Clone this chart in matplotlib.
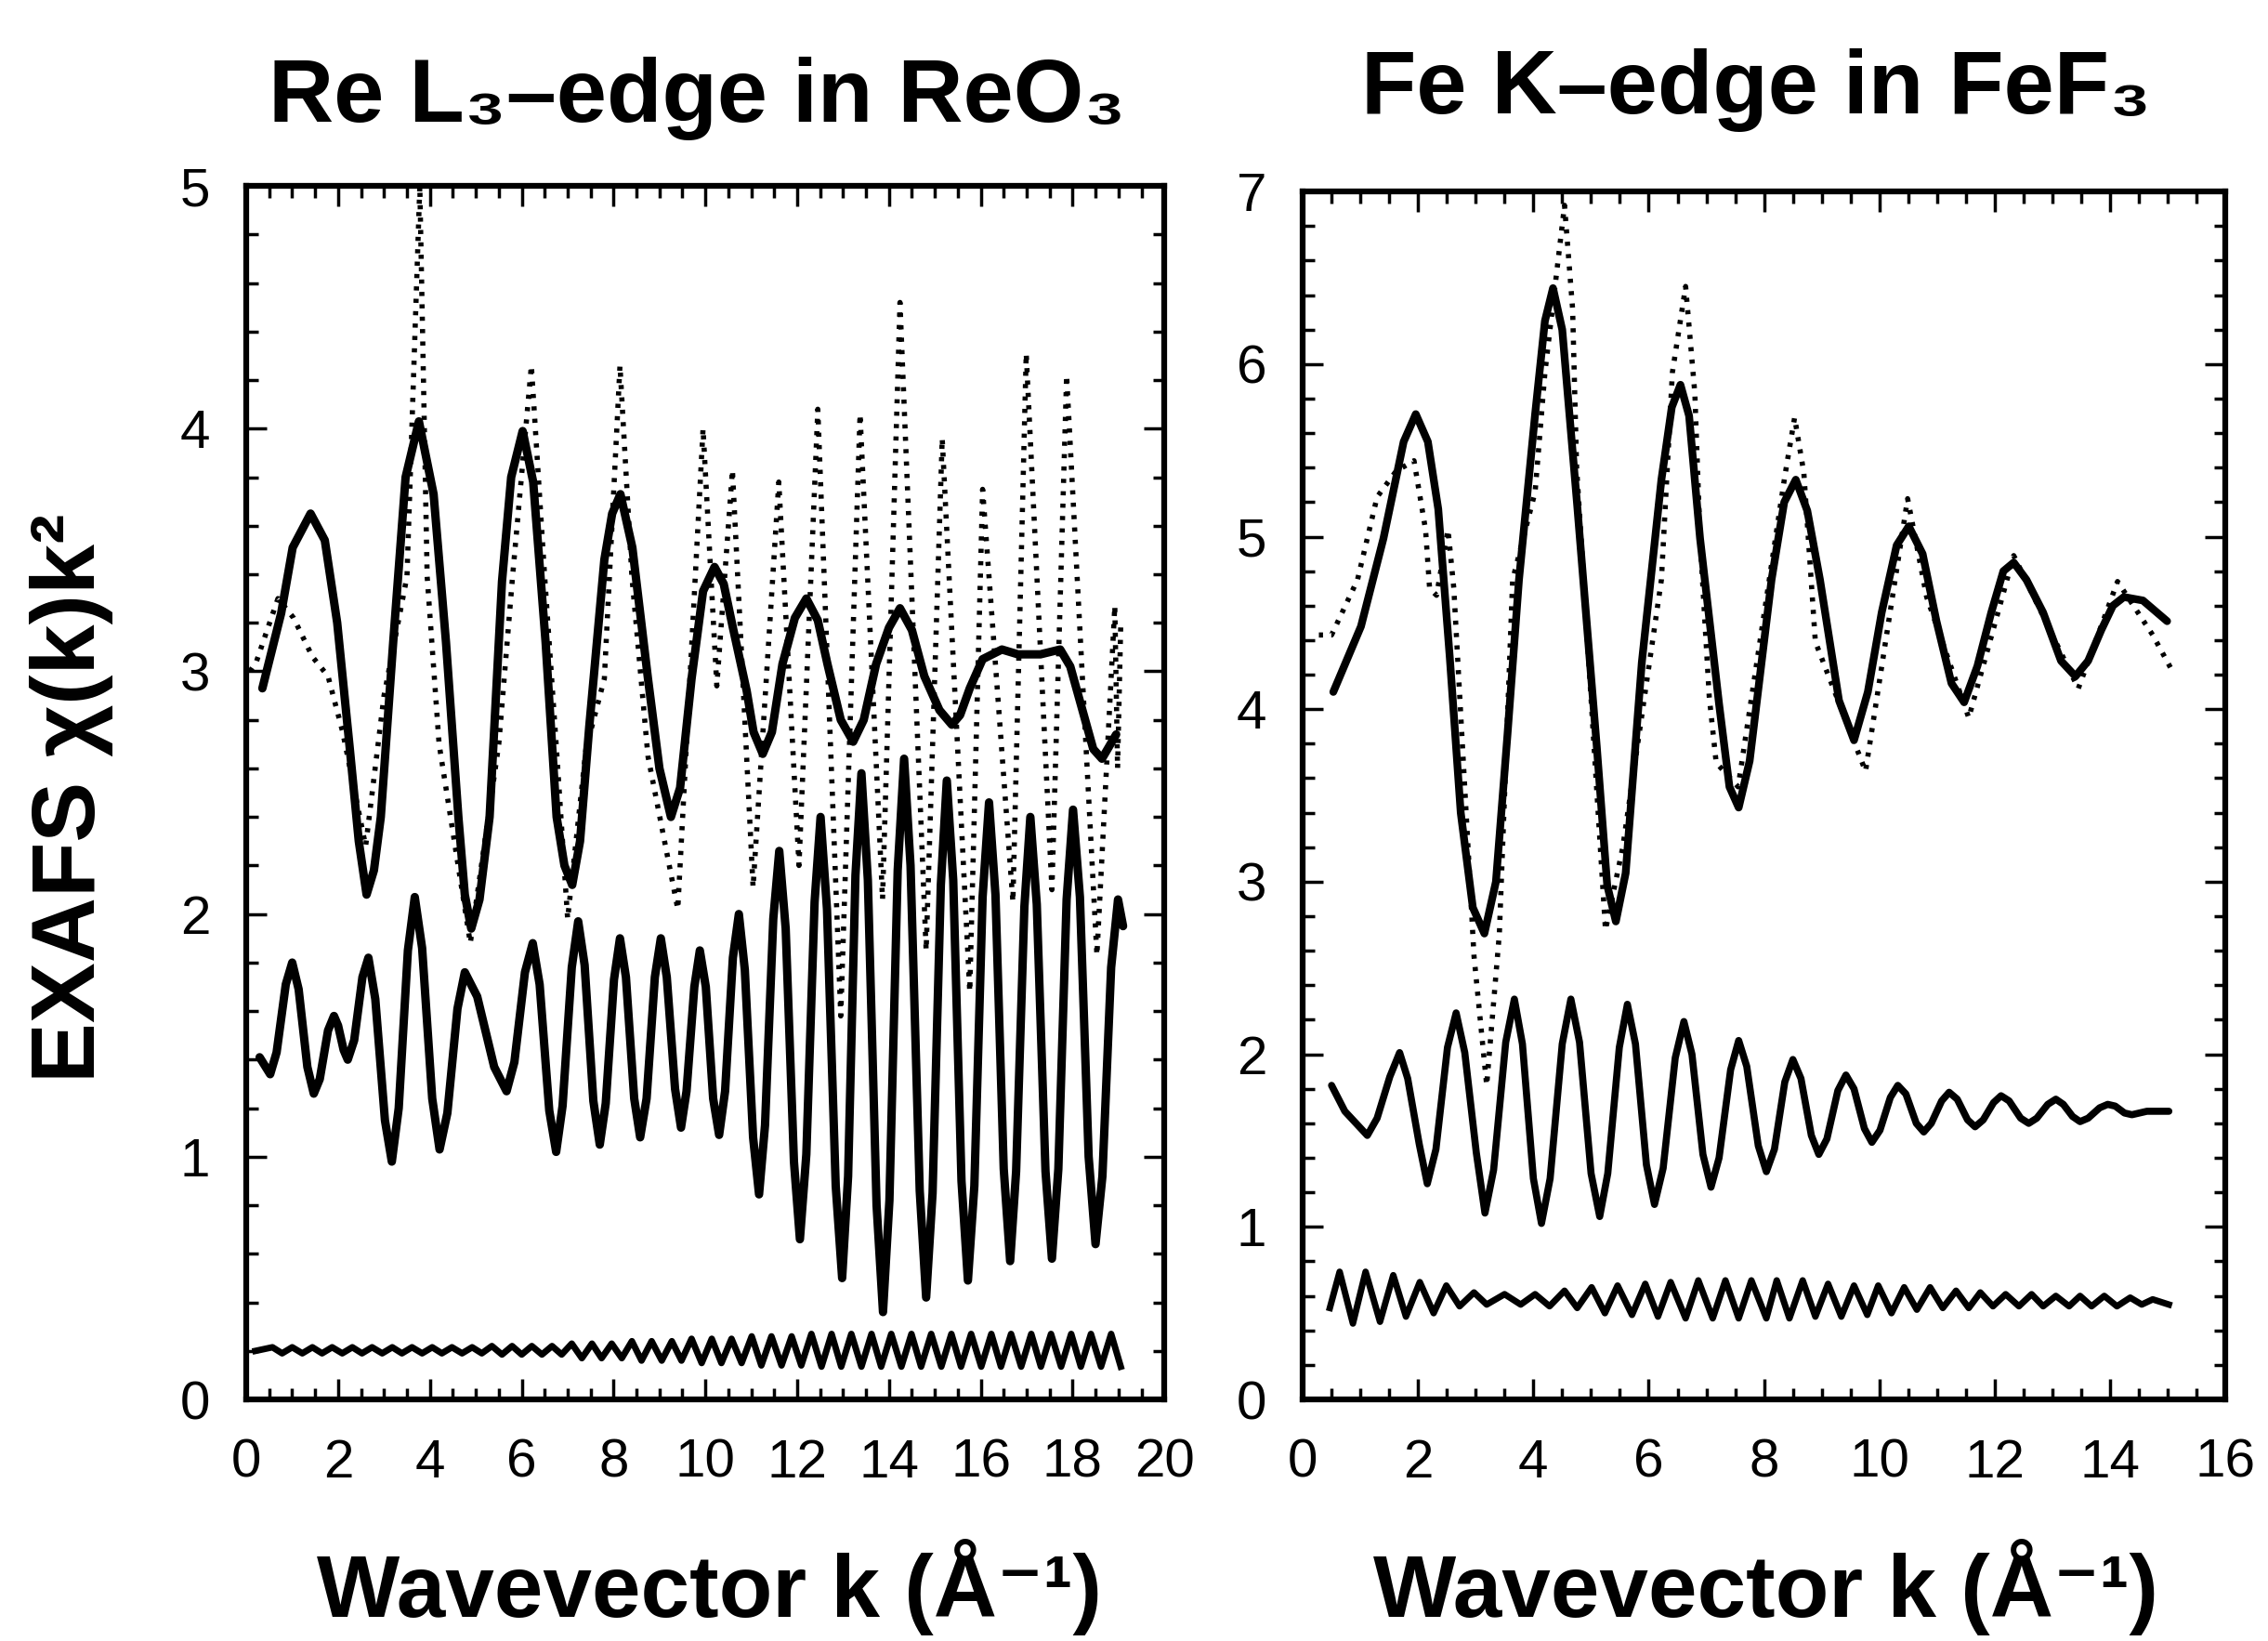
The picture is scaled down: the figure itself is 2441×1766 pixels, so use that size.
import matplotlib.pyplot as plt
from matplotlib.ticker import MultipleLocator

plt.rcParams['font.family'] = ['Liberation Sans', 'DejaVu Sans']

# ---- Re L3-edge in ReO3 (left panel), points as (k, chi*k^2) ----
re_fit = [(0.35, 2.93), (0.76, 3.24), (1.01, 3.51), (1.40, 3.65), (1.71, 3.54),
          (1.98, 3.20), (2.25, 2.69), (2.45, 2.30), (2.62, 2.08), (2.78, 2.18),
          (2.93, 2.40), (3.20, 3.12), (3.47, 3.80), (3.76, 4.03), (4.08, 3.73),
          (4.35, 3.12), (4.62, 2.40), (4.76, 2.08), (4.90, 1.94), (5.08, 2.06),
          (5.30, 2.40), (5.57, 3.37), (5.77, 3.80), (6.02, 3.99), (6.25, 3.78),
          (6.52, 3.12), (6.76, 2.40), (6.93, 2.20), (7.10, 2.12), (7.27, 2.30),
          (7.47, 2.77), (7.80, 3.46), (7.97, 3.65), (8.15, 3.73), (8.41, 3.51),
          (8.75, 2.97), (9.00, 2.60), (9.25, 2.40), (9.45, 2.52), (9.70, 2.97),
          (9.95, 3.33), (10.20, 3.43), (10.40, 3.36), (10.60, 3.18), (10.90, 2.92),
          (11.05, 2.75), (11.25, 2.66), (11.45, 2.75), (11.68, 3.03), (11.95, 3.22),
          (12.20, 3.30), (12.45, 3.21), (12.66, 3.03), (12.95, 2.80), (13.22, 2.71),
          (13.45, 2.80), (13.72, 3.03), (14.00, 3.18), (14.24, 3.26), (14.50, 3.17),
          (14.77, 2.98), (15.10, 2.84), (15.37, 2.78), (15.55, 2.82), (15.76, 2.93),
          (16.04, 3.05), (16.46, 3.09), (16.81, 3.07), (17.30, 3.07), (17.73, 3.09),
          (17.95, 3.02), (18.20, 2.85), (18.45, 2.68), (18.64, 2.64), (18.95, 2.74)]

re_exp = [(0.08, 3.00), (0.22, 3.04), (0.49, 3.19), (0.69, 3.30), (1.03, 3.22),
          (1.44, 3.06), (1.78, 2.98), (2.10, 2.75), (2.60, 2.28), (3.00, 2.90),
          (3.50, 3.39), (3.78, 5.00), (3.94, 3.39), (4.20, 2.70), (4.88, 1.88),
          (5.50, 2.70), (5.80, 3.39), (6.21, 4.26), (6.50, 3.39), (6.75, 2.70),
          (7.00, 1.98), (7.40, 2.68), (7.80, 2.97), (8.14, 4.26), (8.40, 3.39),
          (8.75, 2.65), (9.40, 2.02), (9.95, 4.00), (10.25, 2.94), (10.59, 3.83),
          (11.04, 2.11), (11.60, 3.78), (12.04, 2.20), (12.45, 4.08), (12.95, 1.58),
          (13.37, 4.06), (13.86, 2.06), (14.24, 4.52), (14.81, 1.85), (15.16, 3.96),
          (15.76, 1.68), (16.04, 3.75), (16.70, 2.05), (16.99, 4.31), (17.55, 2.10),
          (17.87, 4.22), (18.53, 1.83), (18.92, 3.27), (18.98, 2.60), (19.05, 3.20)]

re_mid = [(0.29, 1.41), (0.52, 1.34), (0.66, 1.43), (0.86, 1.71), (1.00, 1.80),
          (1.14, 1.69), (1.33, 1.37), (1.47, 1.26), (1.60, 1.32), (1.78, 1.52),
          (1.91, 1.58), (2.00, 1.54), (2.12, 1.44), (2.21, 1.40), (2.35, 1.48),
          (2.53, 1.74), (2.66, 1.82), (2.81, 1.65), (3.02, 1.15), (3.17, 0.98),
          (3.32, 1.20), (3.52, 1.85), (3.67, 2.07), (3.83, 1.86), (4.05, 1.24),
          (4.21, 1.03), (4.38, 1.18), (4.60, 1.61), (4.76, 1.76), (5.03, 1.66),
          (5.40, 1.37), (5.67, 1.27), (5.84, 1.39), (6.07, 1.76), (6.24, 1.88),
          (6.39, 1.71), (6.60, 1.19), (6.75, 1.02), (6.89, 1.21), (7.09, 1.78),
          (7.23, 1.97), (7.37, 1.79), (7.56, 1.23), (7.70, 1.05), (7.83, 1.22),
          (8.01, 1.73), (8.14, 1.90), (8.27, 1.74), (8.45, 1.24), (8.58, 1.08),
          (8.72, 1.24), (8.90, 1.74), (9.03, 1.90), (9.16, 1.74), (9.34, 1.28),
          (9.47, 1.12), (9.59, 1.27), (9.76, 1.70), (9.88, 1.85), (10.01, 1.70),
          (10.17, 1.24), (10.30, 1.09), (10.43, 1.27), (10.60, 1.82), (10.73, 2.00),
          (10.86, 1.77), (11.04, 1.08), (11.17, 0.845), (11.30, 1.13), (11.48, 1.98),
          (11.61, 2.26), (11.75, 1.94), (11.93, 0.98), (12.06, 0.66), (12.20, 1.01),
          (12.38, 2.05), (12.51, 2.40), (12.65, 2.02), (12.84, 0.88), (12.98, 0.50),
          (13.11, 0.92), (13.27, 2.16), (13.40, 2.58), (13.54, 2.14), (13.73, 0.80),
          (13.87, 0.36), (14.01, 0.82), (14.19, 2.18), (14.33, 2.64), (14.47, 2.20),
          (14.67, 0.86), (14.81, 0.42), (14.95, 0.85), (15.13, 2.12), (15.26, 2.55),
          (15.40, 2.14), (15.58, 0.90), (15.72, 0.49), (15.86, 0.88), (16.04, 2.07),
          (16.18, 2.46), (16.32, 2.08), (16.50, 0.95), (16.64, 0.57), (16.77, 0.94),
          (16.95, 2.03), (17.08, 2.40), (17.22, 2.04), (17.41, 0.94), (17.55, 0.58),
          (17.69, 0.95), (17.87, 2.06), (18.01, 2.43), (18.16, 2.07), (18.35, 1.00),
          (18.50, 0.64), (18.65, 0.92), (18.84, 1.78), (18.99, 2.06), (19.10, 1.95)]

re_low_k = [0.20, 0.57, 0.78, 1.00, 1.22, 1.44, 1.65, 1.87, 2.09, 2.31, 2.52,
            2.74, 2.96, 3.18, 3.39, 3.61, 3.83, 4.05, 4.26, 4.48, 4.70,
            4.92, 5.13, 5.35, 5.57, 5.79, 6.00, 6.22, 6.44, 6.66, 6.87,
            7.09, 7.31, 7.53, 7.74, 7.96, 8.18, 8.40, 8.61, 8.83, 9.05,
            9.27, 9.48, 9.70, 9.92, 10.14, 10.35, 10.57, 10.79, 11.01, 11.22,
            11.44, 11.66, 11.88, 12.09, 12.31, 12.53, 12.75, 12.96, 13.18, 13.40,
            13.62, 13.83, 14.05, 14.27, 14.49, 14.70, 14.92, 15.14, 15.36, 15.57,
            15.79, 16.01, 16.23, 16.44, 16.66, 16.88, 17.10, 17.31, 17.53, 17.75,
            17.97, 18.18, 18.40, 18.62, 18.84, 19.05]
re_low_y = [0.20, 0.215, 0.19, 0.215, 0.19, 0.215, 0.19, 0.215, 0.19, 0.215, 0.19,
            0.215, 0.19, 0.215, 0.19, 0.215, 0.19, 0.215, 0.19, 0.215, 0.19,
            0.215, 0.19, 0.22, 0.185, 0.22, 0.185, 0.22, 0.185, 0.22, 0.185,
            0.23, 0.17, 0.23, 0.17, 0.23, 0.17, 0.24, 0.16, 0.24, 0.16,
            0.24, 0.16, 0.25, 0.15, 0.25, 0.15, 0.25, 0.15, 0.26, 0.14,
            0.26, 0.14, 0.26, 0.14, 0.27, 0.135, 0.27, 0.135, 0.27, 0.135,
            0.27, 0.135, 0.27, 0.135, 0.27, 0.135, 0.27, 0.135, 0.27, 0.135,
            0.27, 0.135, 0.27, 0.135, 0.27, 0.135, 0.27, 0.135, 0.27, 0.135,
            0.27, 0.135, 0.27, 0.135, 0.27, 0.135]

# ---- Fe K-edge in FeF3 (right panel) ----
fe_fit = [(0.53, 4.10), (1.01, 4.48), (1.40, 4.99), (1.75, 5.55), (1.96, 5.71),
          (2.17, 5.55), (2.35, 5.16), (2.55, 4.30), (2.74, 3.40), (2.95, 2.85),
          (3.15, 2.70), (3.35, 3.00), (3.55, 3.85), (3.75, 4.75), (4.03, 5.71),
          (4.20, 6.25), (4.34, 6.44), (4.50, 6.20), (4.76, 5.18), (5.10, 3.78),
          (5.28, 2.98), (5.43, 2.77), (5.60, 3.05), (5.88, 4.27), (6.22, 5.33),
          (6.40, 5.75), (6.55, 5.88), (6.70, 5.70), (6.89, 4.99), (7.22, 4.03),
          (7.40, 3.55), (7.56, 3.43), (7.75, 3.70), (8.13, 4.75), (8.35, 5.20),
          (8.55, 5.33), (8.75, 5.15), (8.97, 4.75), (9.30, 4.05), (9.56, 3.82),
          (9.80, 4.10), (10.04, 4.56), (10.30, 4.95), (10.51, 5.06), (10.75, 4.90),
          (10.99, 4.51), (11.25, 4.15), (11.47, 4.04), (11.70, 4.25), (11.94, 4.56),
          (12.15, 4.80), (12.33, 4.85), (12.55, 4.75), (12.84, 4.56), (13.15, 4.28),
          (13.40, 4.19), (13.62, 4.28), (13.85, 4.46), (14.05, 4.60), (14.24, 4.65),
          (14.57, 4.63), (14.99, 4.51)]

fe_exp = [(0.28, 4.43), (0.50, 4.43), (0.95, 4.75), (1.29, 5.23), (1.62, 5.38),
          (1.93, 5.44), (2.13, 5.04), (2.20, 4.70), (2.32, 4.66), (2.52, 5.04),
          (2.62, 4.70), (2.97, 2.57), (3.19, 1.82), (3.41, 2.70), (3.64, 4.75),
          (4.03, 5.26), (4.20, 5.95), (4.54, 6.92), (4.68, 6.32), (4.75, 5.40),
          (5.25, 2.72), (5.55, 3.20), (6.22, 4.75), (6.41, 5.95), (6.64, 6.45),
          (6.80, 5.83), (6.89, 4.99), (7.05, 4.07), (7.17, 3.69), (7.55, 3.55),
          (8.36, 5.35), (8.53, 5.69), (8.69, 5.37), (8.89, 4.39), (9.76, 3.64),
          (10.49, 5.22), (10.82, 4.65), (11.55, 3.95), (12.33, 4.89), (13.45, 4.12),
          (14.13, 4.74), (14.74, 4.43), (15.05, 4.24)]

fe_mid = [(0.50, 1.82), (0.73, 1.67), (1.12, 1.53), (1.29, 1.63), (1.51, 1.87),
          (1.68, 2.01), (1.82, 1.86), (2.02, 1.48), (2.16, 1.25), (2.31, 1.45),
          (2.51, 2.04), (2.66, 2.24), (2.81, 2.01), (3.01, 1.43), (3.16, 1.08),
          (3.31, 1.33), (3.52, 2.07), (3.67, 2.32), (3.81, 2.06), (4.00, 1.28),
          (4.14, 1.02), (4.29, 1.28), (4.50, 2.06), (4.65, 2.32), (4.80, 2.07),
          (5.00, 1.31), (5.15, 1.06), (5.29, 1.31), (5.49, 2.04), (5.63, 2.29),
          (5.77, 2.06), (5.96, 1.36), (6.10, 1.13), (6.25, 1.34), (6.46, 1.98),
          (6.61, 2.19), (6.75, 2.00), (6.94, 1.42), (7.08, 1.23), (7.22, 1.40),
          (7.42, 1.91), (7.56, 2.08), (7.70, 1.93), (7.90, 1.47), (8.04, 1.32),
          (8.18, 1.45), (8.36, 1.84), (8.50, 1.97), (8.64, 1.86), (8.82, 1.53),
          (8.95, 1.42), (9.09, 1.51), (9.28, 1.79), (9.42, 1.88), (9.56, 1.80),
          (9.74, 1.57), (9.87, 1.49), (10.01, 1.56), (10.19, 1.75), (10.32, 1.82),
          (10.46, 1.77), (10.64, 1.60), (10.77, 1.55), (10.90, 1.60), (11.08, 1.73),
          (11.21, 1.78), (11.35, 1.74), (11.53, 1.62), (11.66, 1.58), (11.80, 1.62),
          (11.98, 1.72), (12.11, 1.76), (12.25, 1.73), (12.45, 1.63), (12.59, 1.60),
          (12.73, 1.63), (12.92, 1.71), (13.06, 1.74), (13.19, 1.71), (13.35, 1.64),
          (13.48, 1.61), (13.62, 1.63), (13.82, 1.69), (13.96, 1.71), (14.09, 1.70),
          (14.25, 1.66), (14.38, 1.65), (14.64, 1.67), (15.02, 1.67)]

fe_low_k = [0.47, 0.64, 0.87, 1.09, 1.34, 1.57, 1.79, 2.03, 2.27, 2.49,
            2.72, 2.97, 3.19, 3.50, 3.78, 4.03, 4.28, 4.54, 4.76, 5.01,
            5.24, 5.46, 5.71, 5.94, 6.16, 6.38, 6.64, 6.86, 7.11, 7.33,
            7.56, 7.78, 8.04, 8.22, 8.44, 8.67, 8.89, 9.11, 9.34, 9.56,
            9.79, 9.98, 10.21, 10.43, 10.65, 10.88, 11.10, 11.33, 11.55, 11.75,
            11.97, 12.19, 12.42, 12.64, 12.84, 13.06, 13.29, 13.48, 13.68, 13.90,
            14.12, 14.35, 14.55, 14.74, 15.02]
fe_low_y = [0.53, 0.74, 0.44, 0.74, 0.45, 0.72, 0.48, 0.68, 0.50, 0.66,
            0.54, 0.62, 0.55, 0.61, 0.55, 0.61, 0.54, 0.63, 0.53, 0.65,
            0.50, 0.66, 0.49, 0.67, 0.48, 0.68, 0.47, 0.69, 0.47, 0.69,
            0.47, 0.69, 0.47, 0.69, 0.47, 0.69, 0.48, 0.67, 0.48, 0.66,
            0.49, 0.66, 0.50, 0.65, 0.52, 0.65, 0.53, 0.63, 0.53, 0.62,
            0.54, 0.61, 0.54, 0.61, 0.54, 0.60, 0.54, 0.60, 0.54, 0.60,
            0.54, 0.59, 0.55, 0.58, 0.55]


def styl(ax, xmax, ymax):
    ax.set_xlim(0, xmax)
    ax.set_ylim(0, ymax)
    ax.xaxis.set_major_locator(MultipleLocator(2))
    ax.xaxis.set_minor_locator(MultipleLocator(0.5))
    ax.yaxis.set_major_locator(MultipleLocator(1))
    ax.yaxis.set_minor_locator(MultipleLocator(0.2))
    ax.tick_params(which='both', direction='in', top=True, right=True,
                   width=2.5, labelsize=42)
    ax.tick_params(which='major', length=16)
    ax.tick_params(which='minor', length=9)
    ax.tick_params(axis='x', pad=30)
    ax.tick_params(axis='y', pad=28)
    for s in ax.spines.values():
        s.set_linewidth(4.5)


def curve(ax, pts, **kw):
    k, y = zip(*pts)
    ax.plot(k, y, color='black', solid_joinstyle='round',
            solid_capstyle='round', **kw)


fig = plt.figure(figsize=(24.41, 17.66), dpi=100)
ax1 = fig.add_axes([0.1086, 0.1472, 0.4048, 0.7395])
ax2 = fig.add_axes([0.5744, 0.1472, 0.4068, 0.7361])

dots = (0, (0.8, 1.6))
curve(ax1, re_exp, lw=4, linestyle=dots)
curve(ax1, re_fit, lw=6.5)
curve(ax1, re_mid, lw=6.5)
ax1.plot(re_low_k, re_low_y, color='black', lw=5, solid_joinstyle='round')
styl(ax1, 20, 5)

curve(ax2, fe_exp, lw=4, linestyle=dots)
curve(ax2, fe_fit, lw=6)
curve(ax2, fe_mid, lw=5.5)
ax2.plot(fe_low_k, fe_low_y, color='black', lw=5, solid_joinstyle='round')
styl(ax2, 16, 7)

fig.text(0.3073, 0.926, 'Re L₃–edge in ReO₃', ha='center', va='baseline',
         fontsize=70, fontweight='bold')
fig.text(0.7743, 0.931, 'Fe K–edge in FeF₃', ha='center', va='baseline',
         fontsize=70, fontweight='bold')
fig.text(0.3126, 0.015, 'Wavevector k (Å⁻¹)', ha='center', va='baseline',
         fontsize=68, fontweight='bold')
fig.text(0.7784, 0.015, 'Wavevector k (Å⁻¹)', ha='center', va='baseline',
         fontsize=68, fontweight='bold')
fig.text(0.050, 0.514, 'EXAFS χ(k)k²', rotation=90, ha='right', va='center',
         fontsize=70, fontweight='bold')

fig.savefig('out.png', dpi=100)
